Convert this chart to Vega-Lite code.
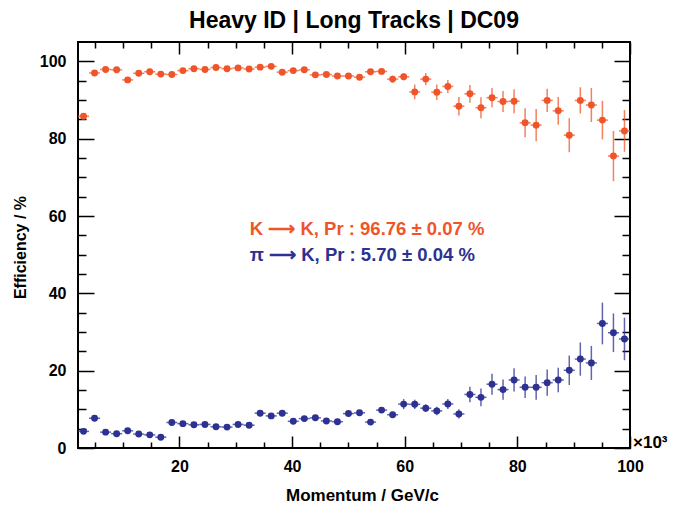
{
  "$schema": "https://vega.github.io/schema/vega-lite/v6.json",
  "width": 552,
  "height": 406,
  "autosize": "none",
  "padding": {"left": 78, "top": 42, "right": 47, "bottom": 60},
  "background": "white",
  "title": {"text": "Heavy ID | Long Tracks | DC09", "font": "Liberation Sans", "fontSize": 23, "fontWeight": "bold", "color": "black", "baseline": "alphabetic", "offset": 15, "dy": 24},
  "config": {"view": {"stroke": "black", "strokeWidth": 2}, "font": "Liberation Sans"},
  "datasets": {
    "eff": [
      {"p": 2.98, "eff": 85.8, "err": 0.5, "xerr": 0.98, "s": "K"},
      {"p": 4.94, "eff": 97.0, "err": 0.3, "xerr": 0.98, "s": "K"},
      {"p": 6.9, "eff": 97.9, "err": 0.3, "xerr": 0.98, "s": "K"},
      {"p": 8.86, "eff": 97.8, "err": 0.3, "xerr": 0.98, "s": "K"},
      {"p": 10.82, "eff": 95.2, "err": 0.4, "xerr": 0.98, "s": "K"},
      {"p": 12.78, "eff": 96.9, "err": 0.3, "xerr": 0.98, "s": "K"},
      {"p": 14.74, "eff": 97.3, "err": 0.3, "xerr": 0.98, "s": "K"},
      {"p": 16.7, "eff": 96.7, "err": 0.3, "xerr": 0.98, "s": "K"},
      {"p": 18.66, "eff": 96.6, "err": 0.3, "xerr": 0.98, "s": "K"},
      {"p": 20.62, "eff": 97.6, "err": 0.3, "xerr": 0.98, "s": "K"},
      {"p": 22.58, "eff": 98.1, "err": 0.3, "xerr": 0.98, "s": "K"},
      {"p": 24.54, "eff": 97.9, "err": 0.3, "xerr": 0.98, "s": "K"},
      {"p": 26.5, "eff": 98.4, "err": 0.3, "xerr": 0.98, "s": "K"},
      {"p": 28.46, "eff": 98.1, "err": 0.3, "xerr": 0.98, "s": "K"},
      {"p": 30.42, "eff": 98.3, "err": 0.3, "xerr": 0.98, "s": "K"},
      {"p": 32.38, "eff": 98.0, "err": 0.3, "xerr": 0.98, "s": "K"},
      {"p": 34.34, "eff": 98.5, "err": 0.3, "xerr": 0.98, "s": "K"},
      {"p": 36.3, "eff": 98.7, "err": 0.3, "xerr": 0.98, "s": "K"},
      {"p": 38.26, "eff": 97.2, "err": 0.4, "xerr": 0.98, "s": "K"},
      {"p": 40.22, "eff": 97.6, "err": 0.4, "xerr": 0.98, "s": "K"},
      {"p": 42.18, "eff": 97.8, "err": 0.4, "xerr": 0.98, "s": "K"},
      {"p": 44.14, "eff": 96.5, "err": 0.5, "xerr": 0.98, "s": "K"},
      {"p": 46.1, "eff": 96.6, "err": 0.5, "xerr": 0.98, "s": "K"},
      {"p": 48.06, "eff": 96.2, "err": 0.5, "xerr": 0.98, "s": "K"},
      {"p": 50.02, "eff": 96.2, "err": 0.6, "xerr": 0.98, "s": "K"},
      {"p": 51.98, "eff": 95.9, "err": 0.6, "xerr": 0.98, "s": "K"},
      {"p": 53.94, "eff": 97.3, "err": 0.7, "xerr": 0.98, "s": "K"},
      {"p": 55.9, "eff": 97.4, "err": 0.7, "xerr": 0.98, "s": "K"},
      {"p": 57.86, "eff": 95.4, "err": 0.9, "xerr": 0.98, "s": "K"},
      {"p": 59.82, "eff": 96.0, "err": 0.9, "xerr": 0.98, "s": "K"},
      {"p": 61.78, "eff": 92.1, "err": 1.9, "xerr": 0.98, "s": "K"},
      {"p": 63.74, "eff": 95.4, "err": 1.6, "xerr": 0.98, "s": "K"},
      {"p": 65.7, "eff": 92.0, "err": 2.0, "xerr": 0.98, "s": "K"},
      {"p": 67.66, "eff": 93.5, "err": 1.7, "xerr": 0.98, "s": "K"},
      {"p": 69.62, "eff": 88.4, "err": 2.4, "xerr": 0.98, "s": "K"},
      {"p": 71.58, "eff": 91.6, "err": 2.3, "xerr": 0.98, "s": "K"},
      {"p": 73.54, "eff": 88.0, "err": 2.7, "xerr": 0.98, "s": "K"},
      {"p": 75.5, "eff": 90.6, "err": 2.5, "xerr": 0.98, "s": "K"},
      {"p": 77.46, "eff": 89.6, "err": 2.7, "xerr": 0.98, "s": "K"},
      {"p": 79.42, "eff": 89.7, "err": 3.1, "xerr": 0.98, "s": "K"},
      {"p": 81.38, "eff": 84.1, "err": 3.75, "xerr": 0.98, "s": "K"},
      {"p": 83.34, "eff": 83.5, "err": 4.2, "xerr": 0.98, "s": "K"},
      {"p": 85.3, "eff": 89.9, "err": 3.0, "xerr": 0.98, "s": "K"},
      {"p": 87.26, "eff": 87.2, "err": 3.6, "xerr": 0.98, "s": "K"},
      {"p": 89.22, "eff": 80.9, "err": 4.4, "xerr": 0.98, "s": "K"},
      {"p": 91.18, "eff": 89.9, "err": 3.4, "xerr": 0.98, "s": "K"},
      {"p": 93.14, "eff": 88.7, "err": 4.4, "xerr": 0.98, "s": "K"},
      {"p": 95.1, "eff": 84.8, "err": 5.0, "xerr": 0.98, "s": "K"},
      {"p": 97.06, "eff": 75.5, "err": 6.5, "xerr": 0.98, "s": "K"},
      {"p": 99.02, "eff": 82.0, "err": 5.4, "xerr": 0.98, "s": "K"},
      {"p": 2.98, "eff": 4.3, "err": 0.3, "xerr": 0.98, "s": "pi"},
      {"p": 4.94, "eff": 7.7, "err": 0.4, "xerr": 0.98, "s": "pi"},
      {"p": 6.9, "eff": 4.1, "err": 0.3, "xerr": 0.98, "s": "pi"},
      {"p": 8.86, "eff": 3.7, "err": 0.3, "xerr": 0.98, "s": "pi"},
      {"p": 10.82, "eff": 4.45, "err": 0.3, "xerr": 0.98, "s": "pi"},
      {"p": 12.78, "eff": 3.6, "err": 0.3, "xerr": 0.98, "s": "pi"},
      {"p": 14.74, "eff": 3.4, "err": 0.3, "xerr": 0.98, "s": "pi"},
      {"p": 16.7, "eff": 2.8, "err": 0.3, "xerr": 0.98, "s": "pi"},
      {"p": 18.66, "eff": 6.6, "err": 0.3, "xerr": 0.98, "s": "pi"},
      {"p": 20.62, "eff": 6.3, "err": 0.3, "xerr": 0.98, "s": "pi"},
      {"p": 22.58, "eff": 6.0, "err": 0.3, "xerr": 0.98, "s": "pi"},
      {"p": 24.54, "eff": 6.1, "err": 0.3, "xerr": 0.98, "s": "pi"},
      {"p": 26.5, "eff": 5.5, "err": 0.3, "xerr": 0.98, "s": "pi"},
      {"p": 28.46, "eff": 5.4, "err": 0.3, "xerr": 0.98, "s": "pi"},
      {"p": 30.42, "eff": 6.1, "err": 0.3, "xerr": 0.98, "s": "pi"},
      {"p": 32.38, "eff": 5.9, "err": 0.3, "xerr": 0.98, "s": "pi"},
      {"p": 34.34, "eff": 9.0, "err": 0.4, "xerr": 0.98, "s": "pi"},
      {"p": 36.3, "eff": 8.3, "err": 0.4, "xerr": 0.98, "s": "pi"},
      {"p": 38.26, "eff": 9.0, "err": 0.4, "xerr": 0.98, "s": "pi"},
      {"p": 40.22, "eff": 6.9, "err": 0.4, "xerr": 0.98, "s": "pi"},
      {"p": 42.18, "eff": 7.6, "err": 0.4, "xerr": 0.98, "s": "pi"},
      {"p": 44.14, "eff": 7.8, "err": 0.5, "xerr": 0.98, "s": "pi"},
      {"p": 46.1, "eff": 7.0, "err": 0.5, "xerr": 0.98, "s": "pi"},
      {"p": 48.06, "eff": 6.8, "err": 0.5, "xerr": 0.98, "s": "pi"},
      {"p": 50.02, "eff": 8.9, "err": 0.6, "xerr": 0.98, "s": "pi"},
      {"p": 51.98, "eff": 9.1, "err": 0.6, "xerr": 0.98, "s": "pi"},
      {"p": 53.94, "eff": 6.7, "err": 0.6, "xerr": 0.98, "s": "pi"},
      {"p": 55.9, "eff": 9.8, "err": 0.7, "xerr": 0.98, "s": "pi"},
      {"p": 57.86, "eff": 8.6, "err": 0.7, "xerr": 0.98, "s": "pi"},
      {"p": 59.82, "eff": 11.35, "err": 1.3, "xerr": 0.98, "s": "pi"},
      {"p": 61.78, "eff": 11.3, "err": 1.2, "xerr": 0.98, "s": "pi"},
      {"p": 63.74, "eff": 10.3, "err": 1.0, "xerr": 0.98, "s": "pi"},
      {"p": 65.7, "eff": 9.6, "err": 1.1, "xerr": 0.98, "s": "pi"},
      {"p": 67.66, "eff": 11.4, "err": 1.3, "xerr": 0.98, "s": "pi"},
      {"p": 69.62, "eff": 8.8, "err": 1.2, "xerr": 0.98, "s": "pi"},
      {"p": 71.58, "eff": 13.85, "err": 2.0, "xerr": 0.98, "s": "pi"},
      {"p": 73.54, "eff": 13.1, "err": 2.3, "xerr": 0.98, "s": "pi"},
      {"p": 75.5, "eff": 16.5, "err": 2.7, "xerr": 0.98, "s": "pi"},
      {"p": 77.46, "eff": 15.1, "err": 2.6, "xerr": 0.98, "s": "pi"},
      {"p": 79.42, "eff": 17.6, "err": 3.0, "xerr": 0.98, "s": "pi"},
      {"p": 81.38, "eff": 15.7, "err": 2.8, "xerr": 0.98, "s": "pi"},
      {"p": 83.34, "eff": 15.7, "err": 3.2, "xerr": 0.98, "s": "pi"},
      {"p": 85.3, "eff": 16.9, "err": 3.4, "xerr": 0.98, "s": "pi"},
      {"p": 87.26, "eff": 17.6, "err": 3.15, "xerr": 0.98, "s": "pi"},
      {"p": 89.22, "eff": 20.1, "err": 3.8, "xerr": 0.98, "s": "pi"},
      {"p": 91.18, "eff": 23.0, "err": 4.3, "xerr": 0.98, "s": "pi"},
      {"p": 93.14, "eff": 22.0, "err": 4.4, "xerr": 0.98, "s": "pi"},
      {"p": 95.1, "eff": 32.2, "err": 5.4, "xerr": 0.98, "s": "pi"},
      {"p": 97.06, "eff": 29.8, "err": 5.0, "xerr": 0.98, "s": "pi"},
      {"p": 99.02, "eff": 28.2, "err": 5.5, "xerr": 0.98, "s": "pi"}
    ],
    "notes": [
      {"p": 32.5, "eff": 56.7, "s": "K", "label": "K ⟶ K, Pr : 96.76 ± 0.07 %"},
      {"p": 32.5, "eff": 50.0, "s": "pi", "label": "π ⟶ K, Pr : 5.70 ± 0.04 %"}
    ]
  },
  "resolve": {"axis": {"x": "independent", "y": "independent"}},
  "layer": [
    {
      "data": {"name": "eff"},
      "mark": {"type": "errorbar", "ticks": false, "rule": {"strokeWidth": 1.5, "opacity": 0.75}},
      "encoding": {
        "x": {"field": "p", "type": "quantitative",
          "scale": {"domain": [2, 100], "nice": false, "zero": false},
          "axis": {
            "orient": "bottom",
            "values": [5, 10, 15, 20, 25, 30, 35, 40, 45, 50, 55, 60, 65, 70, 75, 80, 85, 90, 95, 100],
            "labelExpr": "datum.value % 20 === 0 ? datum.label : ''",
            "ticks": false, "domain": false,
            "grid": true, "gridColor": "black", "gridWidth": 1.5, "gridOpacity": 1,
            "gridDash": {"condition": {"test": "datum.value % 20 === 0", "value": [12, 382]}, "value": [6, 394]},
            "labelFont": "Liberation Sans", "labelFontSize": 16, "labelFontWeight": "bold", "labelColor": "black",
            "labelPadding": 10, "labelFlush": false,
            "title": "Momentum / GeV/c",
            "titleFont": "Liberation Sans", "titleFontSize": 17, "titleFontWeight": "bold", "titleColor": "black",
            "titleX": 284, "titleY": 47, "titleBaseline": "middle", "titleAlign": "center"
          }
        },
        "y": {"field": "eff", "type": "quantitative",
          "scale": {"domain": [0, 105], "nice": false, "zero": true},
          "axis": {
            "orient": "left",
            "values": [0, 5, 10, 15, 20, 25, 30, 35, 40, 45, 50, 55, 60, 65, 70, 75, 80, 85, 90, 95, 100],
            "labelExpr": "datum.value % 20 === 0 ? datum.label : ''",
            "ticks": false, "domain": false,
            "grid": true, "gridColor": "black", "gridWidth": 1.5, "gridOpacity": 1,
            "gridDash": {"condition": {"test": "datum.value % 20 === 0", "value": [16, 520]}, "value": [8, 536]},
            "labelFont": "Liberation Sans", "labelFontSize": 16, "labelFontWeight": "bold", "labelColor": "black",
            "labelPadding": 12, "labelFlush": false,
            "title": "Efficiency / %",
            "titleFont": "Liberation Sans", "titleFontSize": 16, "titleFontWeight": "bold", "titleColor": "black",
            "titleX": -58, "titleY": 205, "titleBaseline": "middle", "titleAlign": "center", "titleAngle": -90
          }
        },
        "yError": {"field": "err"},
        "color": {"field": "s", "type": "nominal", "scale": {"domain": ["K", "pi"], "range": ["#f0552a", "#2d3191"]}, "legend": null}
      }
    },
    {
      "data": {"name": "eff"},
      "mark": {"type": "errorbar", "ticks": false, "rule": {"strokeWidth": 1.5, "opacity": 0.75}},
      "encoding": {
        "x": {"field": "p", "type": "quantitative", "axis": null},
        "xError": {"field": "xerr"},
        "y": {"field": "eff", "type": "quantitative", "axis": null},
        "color": {"field": "s", "type": "nominal", "legend": null}
      }
    },
    {
      "data": {"name": "eff"},
      "mark": {"type": "circle", "size": 48, "opacity": 1},
      "encoding": {
        "x": {"field": "p", "type": "quantitative", "axis": null},
        "y": {"field": "eff", "type": "quantitative", "axis": null},
        "color": {"field": "s", "type": "nominal", "legend": null}
      }
    },
    {
      "data": {"name": "notes"},
      "mark": {"type": "text", "align": "left", "baseline": "middle", "font": "Liberation Sans", "fontSize": 18.5, "fontWeight": "bold"},
      "encoding": {
        "x": {"field": "p", "type": "quantitative", "axis": null},
        "y": {"field": "eff", "type": "quantitative", "axis": null},
        "text": {"field": "label"},
        "color": {"field": "s", "type": "nominal", "legend": null}
      }
    },
    {
      "data": {"values": [{}]},
      "mark": {"type": "text", "text": "×10³", "align": "left", "baseline": "alphabetic", "dx": 3, "font": "Liberation Sans", "fontSize": 17, "fontWeight": "bold", "color": "black"},
      "encoding": {
        "x": {"datum": 100, "type": "quantitative", "axis": null},
        "y": {"datum": 0, "type": "quantitative", "axis": null}
      }
    }
  ]
}
